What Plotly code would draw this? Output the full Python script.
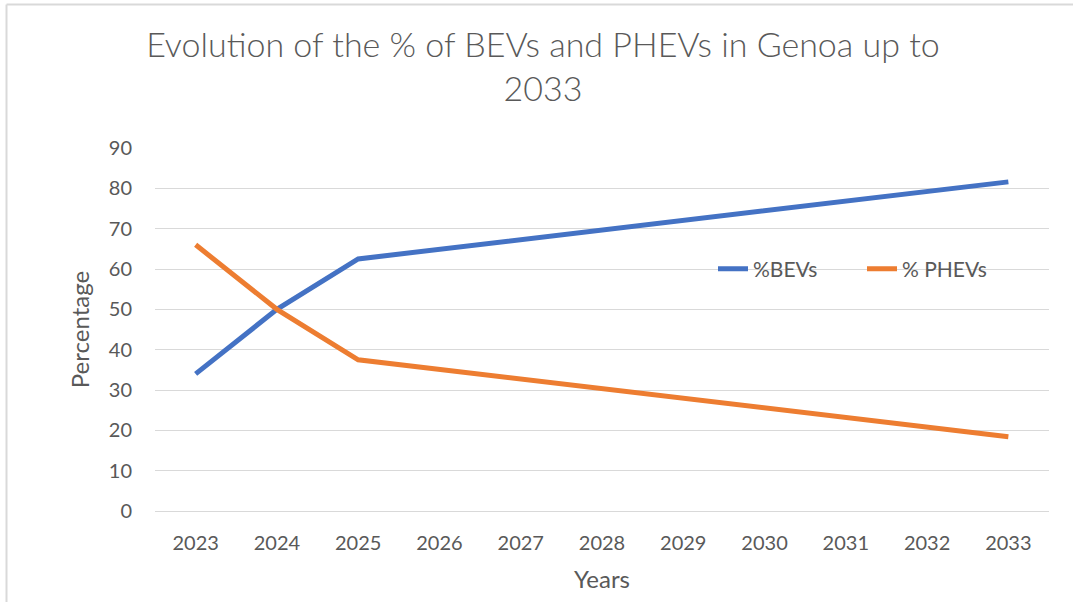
import plotly.graph_objects as go

years = ["2023", "2024", "2025", "2026", "2027", "2028", "2029", "2030", "2031", "2032", "2033"]
bevs = [34.0, 50.0, 62.5, 64.9, 67.3, 69.7, 72.1, 74.4, 76.8, 79.2, 81.6]
phevs = [66.0, 50.0, 37.5, 35.1, 32.7, 30.3, 27.9, 25.6, 23.2, 20.8, 18.4]
y_ticks = [0, 10, 20, 30, 40, 50, 60, 70, 80, 90]

TEXT = "#595959"
GRID = "#D9D9D9"
FONT = "Lato, 'Open Sans', sans-serif"

fig = go.Figure()
fig.add_trace(go.Scatter(x=years, y=bevs, mode="lines", name="%BEVs",
                         line=dict(color="#4472C4", width=5)))
fig.add_trace(go.Scatter(x=years, y=phevs, mode="lines", name="% PHEVs",
                         line=dict(color="#ED7D31", width=5)))

L, R, T, B = 155, 24, 148, 91
W, H = 1073, 602
pw, ph = W - L - R, H - T - B

def px(x):
    return (x - L) / pw

def py(y):
    return (H - B - y) / ph

fig.update_layout(
    width=W, height=H,
    margin=dict(l=L, r=R, t=T, b=B, autoexpand=False),
    paper_bgcolor="white", plot_bgcolor="white",
    font=dict(family=FONT, color=TEXT, size=20),
    title=dict(text="Evolution of the % of BEVs and PHEVs in Genoa up to<br>2033",
               x=0.506, xanchor="center", y=0.905, yanchor="top",
               font=dict(size=34, color=TEXT, family=FONT, weight=300)),
    legend=dict(orientation="h", x=px(713), y=py(269), xanchor="left", yanchor="middle",
                entrywidth=104, entrywidthmode="pixels",
                bgcolor="rgba(0,0,0,0)", font=dict(size=21, color=TEXT)),
    xaxis=dict(type="category", range=[-0.5, 10.5], showgrid=False, zeroline=False,
               showline=True, linecolor=GRID, linewidth=1.3,
               ticks="", ticklabelstandoff=14, automargin=False,
               tickfont=dict(size=20, color=TEXT),
               title=dict(text="Years", font=dict(size=24, color=TEXT), standoff=18)),
    yaxis=dict(range=[0, 90], tickvals=y_ticks, showgrid=True, gridcolor=GRID, gridwidth=1.3,
               zeroline=False, showline=False, ticks="", ticklabelstandoff=22, automargin=False,
               tickfont=dict(size=20, color=TEXT),
               title=dict(text="Percentage", font=dict(size=24, color=TEXT), standoff=12)),
    shapes=[
        dict(type="line", xref="paper", yref="paper", x0=px(6.5), x1=px(6.5), y0=py(4.5), y1=py(610),
             line=dict(color=GRID, width=2), layer="below"),
        dict(type="line", xref="paper", yref="paper", x0=px(6.5), x1=px(1080), y0=py(4.5), y1=py(4.5),
             line=dict(color=GRID, width=2), layer="below"),
    ],
)

fig.write_html("out.html", config={"displayModeBar": False},
               post_script="document.body.style.margin='0';")
